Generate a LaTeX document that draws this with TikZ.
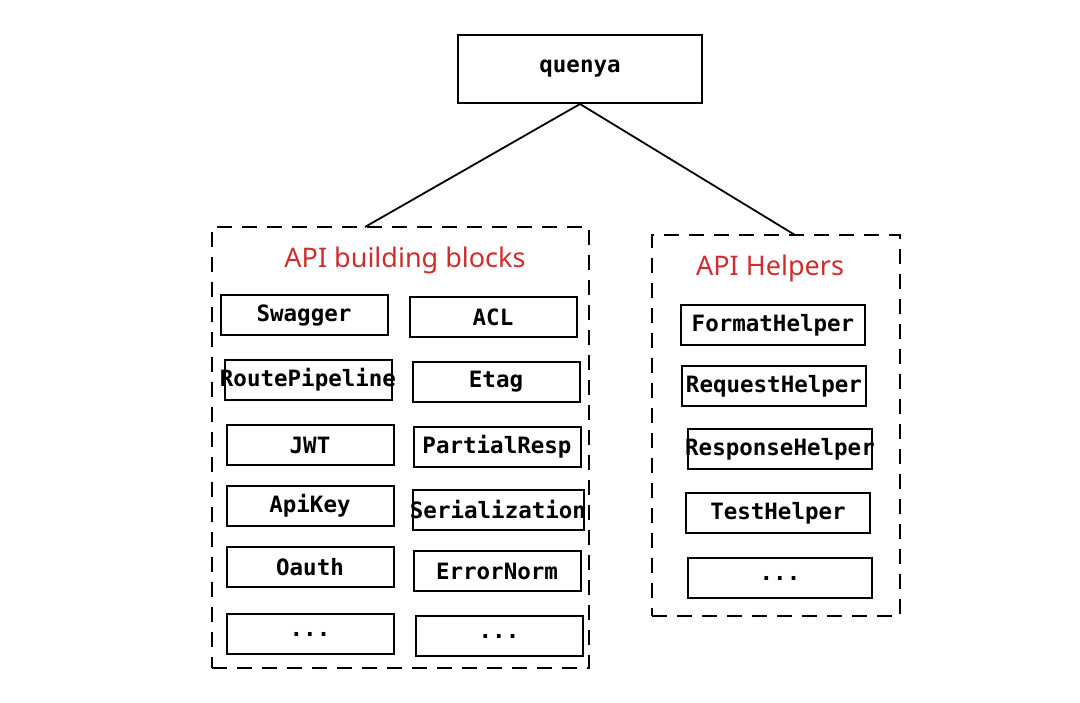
\documentclass[tikz,border=0pt]{standalone}
\usepackage{fontspec}
\setmonofont{DejaVu Sans Mono}
\newfontfamily\handfont{Noto Sans}
\definecolor{titlered}{RGB}{205,45,45}
\newcommand{\nowidth}[1]{\makebox[0pt][c]{#1}}
\tikzset{
  item/.style={draw, line width=2pt, minimum width=167pt, minimum height=40pt, inner sep=0pt,
    font=\ttfamily\bfseries\fontsize{22.5}{26}\selectfont},
  ritem/.style={item, minimum width=184pt},
  group/.style={draw, line width=2pt, dash pattern=on 15pt off 10pt, inner sep=0pt},
  gtitle/.style={text=titlered, font=\handfont\fontsize{27}{30}\selectfont},
  link/.style={line width=1.8pt}
}
\begin{document}
\begin{tikzpicture}[x=1pt,y=-1pt]
\useasboundingbox (0,0) rectangle (1080,703);
% top node
\node[item, minimum width=244pt, minimum height=68pt] (quenya) at (580,69) {quenya};
% containers
\node[group, minimum width=377pt, minimum height=441pt] (left) at (400.5,447.5) {};
\node[group, minimum width=248pt, minimum height=381pt] (right) at (776,425.5) {};
\node[gtitle] (lt) at (405,260) {API building blocks};
\node[gtitle] (rt) at (770,268) {API Helpers};
% connectors
\coordinate (la) at (365,227);
\coordinate (ra) at (795,235);
\draw[link] (quenya.south) -- (la);
\draw[link] (quenya.south) -- (ra);
% left column
\node[item] (swagger) at (304,315) {Swagger};
\node[item] (route) at (308,380) {\nowidth{RoutePipeline}};
\node[item] (jwt) at (310,445) {JWT};
\node[item] (apikey) at (310,506) {ApiKey};
\node[item] (oauth) at (310,567) {Oauth};
\node[item] (ldots) at (310,634) {...};
% middle column
\node[item] (acl) at (493,317) {ACL};
\node[item] (etag) at (496,382) {Etag};
\node[item] (partial) at (497,447) {PartialResp};
\node[item, minimum width=171pt] (serial) at (498,510) {\nowidth{Serialization}};
\node[item] (error) at (497,571) {ErrorNorm};
\node[item] (mdots) at (499,636) {...};
% right column
\node[ritem] (format) at (773,325) {FormatHelper};
\node[ritem] (request) at (774,386) {RequestHelper};
\node[ritem] (response) at (780,449) {\nowidth{ResponseHelper}};
\node[ritem] (test) at (778,513) {TestHelper};
\node[ritem] (rdots) at (780,578) {...};
\end{tikzpicture}
\end{document}
